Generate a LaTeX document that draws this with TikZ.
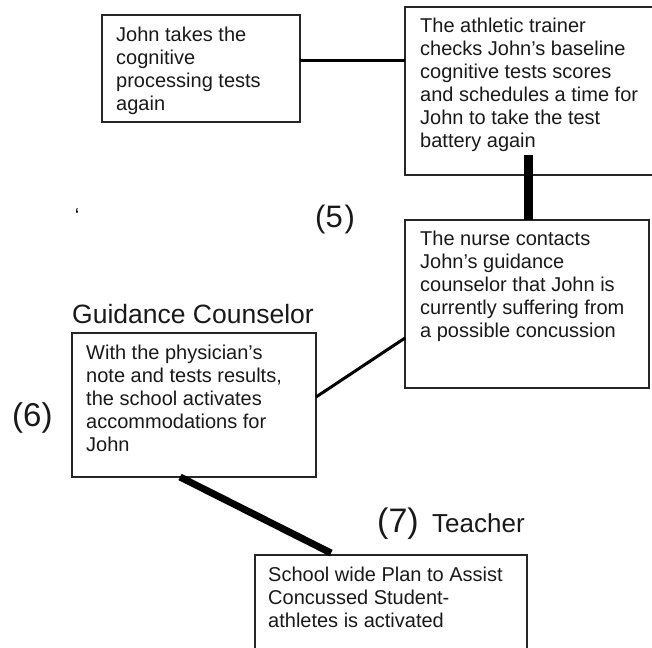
\documentclass[tikz,border=0pt]{standalone}
\usepackage{fontspec}
\setmainfont{Liberation Sans}
\usetikzlibrary{calc}
\begin{document}
\begin{tikzpicture}[x=1pt,y=-1pt,
  box/.style={draw=black!85,line width=1.3pt,rectangle,anchor=north west,inner sep=0pt,outer sep=0pt},
  txt/.style={anchor=north west,inner sep=0pt,align=left,font=\fontsize{20}{23}\selectfont,text=black!90},
  lbl/.style={inner sep=0pt,anchor=base west,text=black!90},
  thinlink/.style={line width=3pt,black},
  thicklink/.style={line width=9pt,black},
  medlink/.style={line width=7pt,black}]
\useasboundingbox (0,0) rectangle (652,647);
\clip (0,0) rectangle (652,647);
% boxes
\node[box,minimum width=198pt,minimum height=107pt] (b1) at (102,15) {};
\node[box,minimum width=262pt,minimum height=168pt] (b2) at (405,7) {};
\node[box,minimum width=244pt,minimum height=168pt] (b3) at (405,220) {};
\node[box,minimum width=244pt,minimum height=144pt] (b4) at (72,333) {};
\node[box,minimum width=272pt,minimum height=110pt] (b5) at (255,555) {};
% texts
\node[txt] (t1) at (116,26.7) {John takes the\\cognitive\\processing tests\\again};
\node[txt] (t2) at (420,17.7) {The athletic trainer\\checks John’s baseline\\cognitive tests scores\\and schedules a time for\\John to take the test\\battery again};
\node[txt] (t3) at (420,230.7) {The nurse contacts\\John’s guidance\\counselor that John is\\currently suffering from\\a possible concussion};
\node[txt] (t4) at (86,344.7) {With the physician’s\\note and tests results,\\the school activates\\accommodations for\\John};
\node[txt] (t5) at (268,566.7) {School wide Plan to Assist\\Concussed Student-\\athletes is activated};
% labels
\node[lbl,font=\fontsize{31}{31}\selectfont] (l5) at (315,227) {(5\kern2pt)};
\node[lbl,font=\fontsize{26.5}{26.5}\selectfont] (lgc) at (72,323) {Guidance Counselor};
\node[lbl,font=\fontsize{33}{33}\selectfont] (l6) at (12,426) {(6)};
\node[lbl,font=\fontsize{34}{34}\selectfont] (l7) at (377,532) {(7)};
\node[lbl,font=\fontsize{26}{26}\selectfont] (lt) at (432,532) {Teacher};
\node[inner sep=0pt,font=\fontsize{20}{20}\selectfont] (tick) at (77,216) {`};
% connectors
\draw[thinlink] ($(b1.north east)+(0,46)$) -- ($(b2.north west)+(0,54)$);
\draw[thicklink] ($(b2.south west)+(123,-20)$) -- ($(b3.north west)+(123,0)$);
\draw[thinlink] ($(b4.north east)+(0,64)$) -- ($(b3.north west)+(0,118)$);
\draw[medlink] ($(b4.south west)+(108,0)$) -- ($(b5.north west)+(76,-2)$);
\end{tikzpicture}
\end{document}
